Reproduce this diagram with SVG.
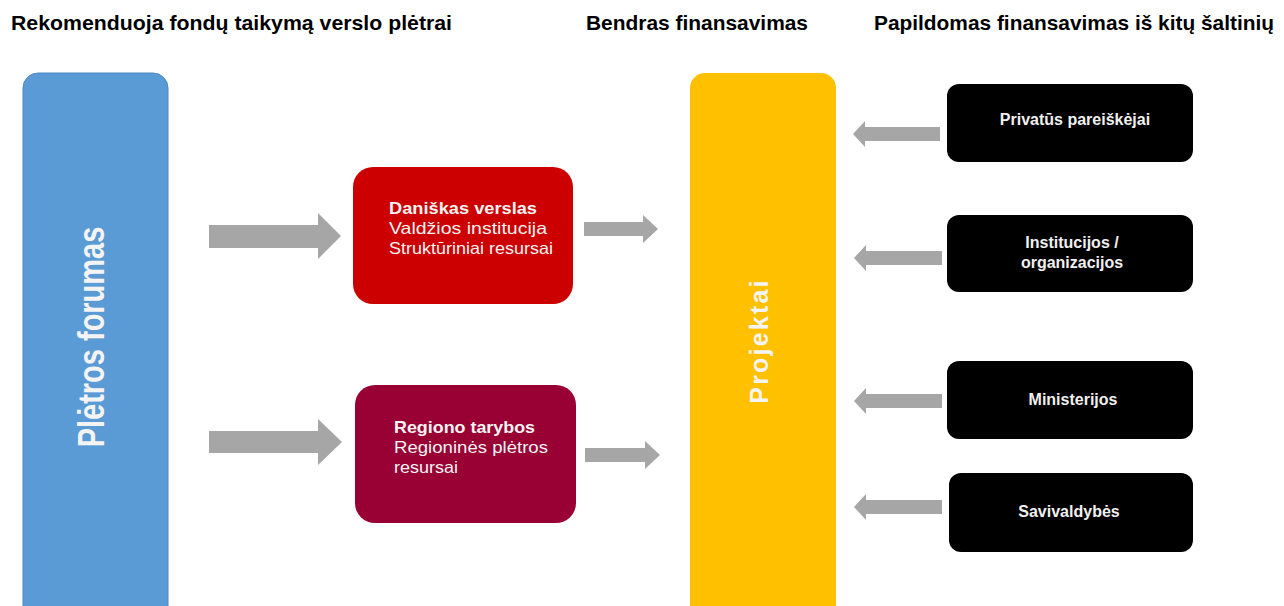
<svg xmlns="http://www.w3.org/2000/svg" width="1284" height="606" viewBox="0 0 1284 606">
<style>
  text { font-family: "Liberation Sans", Arial, sans-serif; }
  .head { font-size: 21px; font-weight: bold; fill: #000; }
  .vert { font-weight: bold; fill: #f4f4f4; }
  .red { font-size: 16.5px; fill: #f4f4f4; }
  .b { font-weight: bold; }
  .blk { font-size: 16px; font-weight: bold; fill: #f0f0f0; text-anchor: middle; }
  .arrow { fill: #a6a6a6; }
  .black { fill: #000; }
</style>
<rect width="1284" height="606" fill="#fff"/>
<g id="headings">
  <text class="head" x="11" y="30" textLength="441" lengthAdjust="spacingAndGlyphs">Rekomenduoja fondų taikymą verslo plėtrai</text>
  <text class="head" x="586" y="30" textLength="222" lengthAdjust="spacingAndGlyphs">Bendras finansavimas</text>
  <text class="head" x="874" y="30" textLength="400" lengthAdjust="spacingAndGlyphs">Papildomas finansavimas iš kitų šaltinių</text>
</g>
<g id="pletros-forumas">
  <rect x="23" y="73" width="145" height="550" rx="15" fill="#5b9bd5" stroke="#4f88bf" stroke-width="1"/>
  <text class="vert" font-size="29" text-anchor="middle" transform="translate(91,337) scale(1.25,1) rotate(-90)" y="10">Plėtros forumas</text>
</g>
<g id="projektai">
  <rect x="690" y="73" width="146" height="550" rx="15" fill="#ffc000"/>
  <text class="vert" font-size="25" letter-spacing="2.2" text-anchor="middle" transform="translate(768,341) rotate(-90)" y="0">Projektai</text>
</g>
<g id="daniskas">
  <rect x="353" y="167" width="220" height="137" rx="20" fill="#cc0000"/>
  <text class="red b" x="389" y="214" textLength="148" lengthAdjust="spacingAndGlyphs">Daniškas verslas</text>
  <text class="red" x="389" y="234" textLength="158" lengthAdjust="spacingAndGlyphs">Valdžios institucija</text>
  <text class="red" x="389" y="254" textLength="164" lengthAdjust="spacingAndGlyphs">Struktūriniai resursai</text>
</g>
<g id="regiono">
  <rect x="355" y="385" width="221" height="138" rx="20" fill="#990033"/>
  <text class="red b" x="394" y="433" textLength="141" lengthAdjust="spacingAndGlyphs">Regiono tarybos</text>
  <text class="red" x="394" y="453" textLength="154" lengthAdjust="spacingAndGlyphs">Regioninės plėtros</text>
  <text class="red" x="394" y="473" textLength="64" lengthAdjust="spacingAndGlyphs">resursai</text>
</g>
<g id="privatus">
  <rect class="black" x="947" y="84" width="246" height="78" rx="12"/>
  <text class="blk" x="1075" y="125">Privatūs pareiškėjai</text>
</g>
<g id="institucijos">
  <rect class="black" x="947" y="215" width="246" height="77" rx="12"/>
  <text class="blk" x="1072" y="248">Institucijos /</text>
  <text class="blk" x="1072" y="268">organizacijos</text>
</g>
<g id="ministerijos">
  <rect class="black" x="947" y="361" width="246" height="78" rx="12"/>
  <text class="blk" x="1073" y="405">Ministerijos</text>
</g>
<g id="savivaldybes">
  <rect class="black" x="949" y="473" width="244" height="79" rx="12"/>
  <text class="blk" x="1069" y="517">Savivaldybės</text>
</g>
<g id="connectors">
  <polygon class="arrow" points="209,225 318,225 318,213 341,236 318,259 318,248 209,248"/>
  <polygon class="arrow" points="209,431 318,431 318,419 342,442 318,465 318,453 209,453"/>
  <polygon class="arrow" points="584,222 643,222 643,215 658,229 643,243 643,236 584,236"/>
  <polygon class="arrow" points="585,448 645,448 645,441 660,455 645,469 645,462 585,462"/>
  <polygon class="arrow" points="940,127 865,127 865,121 853,134 865,147 865,141 940,141"/>
  <polygon class="arrow" points="942,251 866,251 866,245 854,258 866,271 866,265 942,265"/>
  <polygon class="arrow" points="942,394 866,394 866,388 854,401 866,414 866,408 942,408"/>
  <polygon class="arrow" points="942,500 866,500 866,494 854,507 866,520 866,514 942,514"/>
</g>
</svg>
